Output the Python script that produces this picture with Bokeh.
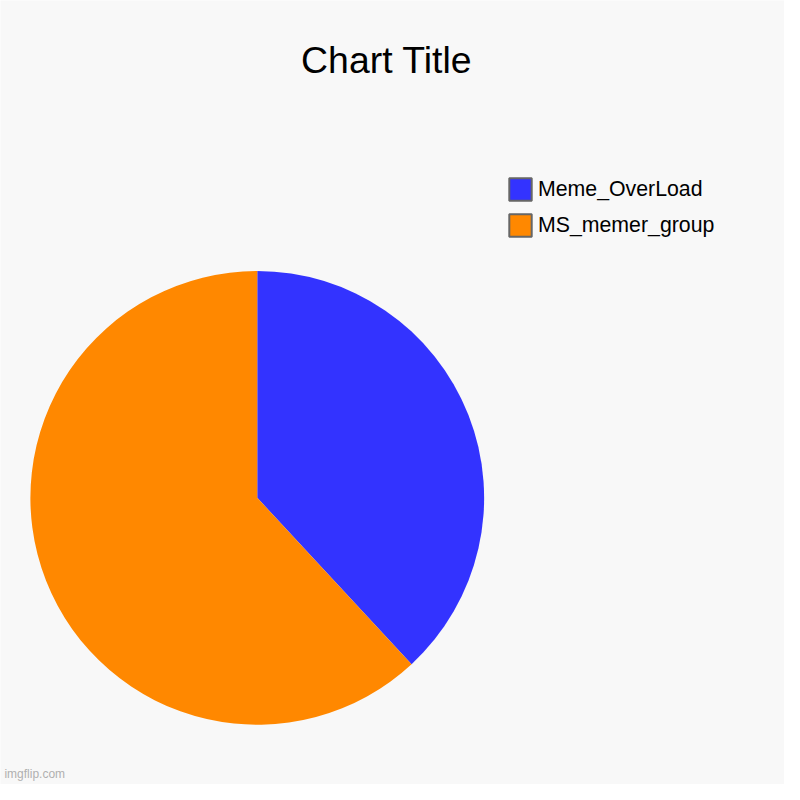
import math
from bokeh.plotting import figure
from bokeh.models import ColumnDataSource, Range1d, Legend, LegendItem, Label
from bokeh.embed import file_html
from bokeh.resources import INLINE

# ---- data ----
categories = ["Meme_OverLoad", "MS_memer_group"]
values = [8, 13]
colors = ["#3333FF", "#FF8800"]
title_text = "Chart Title"
watermark = "imgflip.com"

total = float(sum(values))
starts, ends = [], []
acc = 0.0
for v in values:
    a0 = math.pi / 2 - 2 * math.pi * acc / total
    acc += v
    a1 = math.pi / 2 - 2 * math.pi * acc / total
    starts.append(a0)
    ends.append(a1)

CX, CY, R = 262, 800 - 507.5, 231.5

source = ColumnDataSource(dict(cat=categories, val=values, color=colors,
                               start=starts, end=ends,
                               x=[CX] * len(values), y=[CY] * len(values)))

p = figure(width=784, height=784, output_backend="svg", toolbar_location=None,
           x_range=Range1d(0, 800), y_range=Range1d(0, 800),
           x_axis_type=None, y_axis_type=None, min_border=0)
p.background_fill_color = "#f8f8f8"
p.border_fill_color = "#f8f8f8"
p.outline_line_color = None
p.grid.visible = False

# legend proxy (zero-size, hidden under the pie)
leg_r = p.rect(x="x", y="y", width=0, height=0, fill_color="color",
               line_color="#666666", line_width=2, source=source)

p.wedge(x="x", y="y", radius=R, start_angle="start", end_angle="end",
        direction="clock", fill_color="color", line_color=None, source=source)

items = [LegendItem(label=c, renderers=[leg_r], index=i) for i, c in enumerate(categories)]
legend = Legend(items=items, location=(506, 545), orientation="vertical",
                glyph_width=28, glyph_height=28, label_height=28, spacing=8,
                label_standoff=4, padding=0, margin=0,
                label_text_font="Liberation Sans", label_text_font_size="21.3px",
                label_text_color="#000000",
                border_line_color=None, background_fill_alpha=0)
p.add_layout(legend, "center")

p.add_layout(Label(x=394, y=800 - 60.7, text=title_text, text_align="center",
                   text_baseline="alphabetic", text_font="Liberation Sans",
                   text_font_size="37.4px", text_color="#000000"))
p.add_layout(Label(x=4, y=800 - 789, text=watermark, text_align="left",
                   text_baseline="alphabetic", text_font="Liberation Sans",
                   text_font_size="12px", text_color="#b0b0b0"))

open("out.html", "w").write(file_html(p, INLINE))
